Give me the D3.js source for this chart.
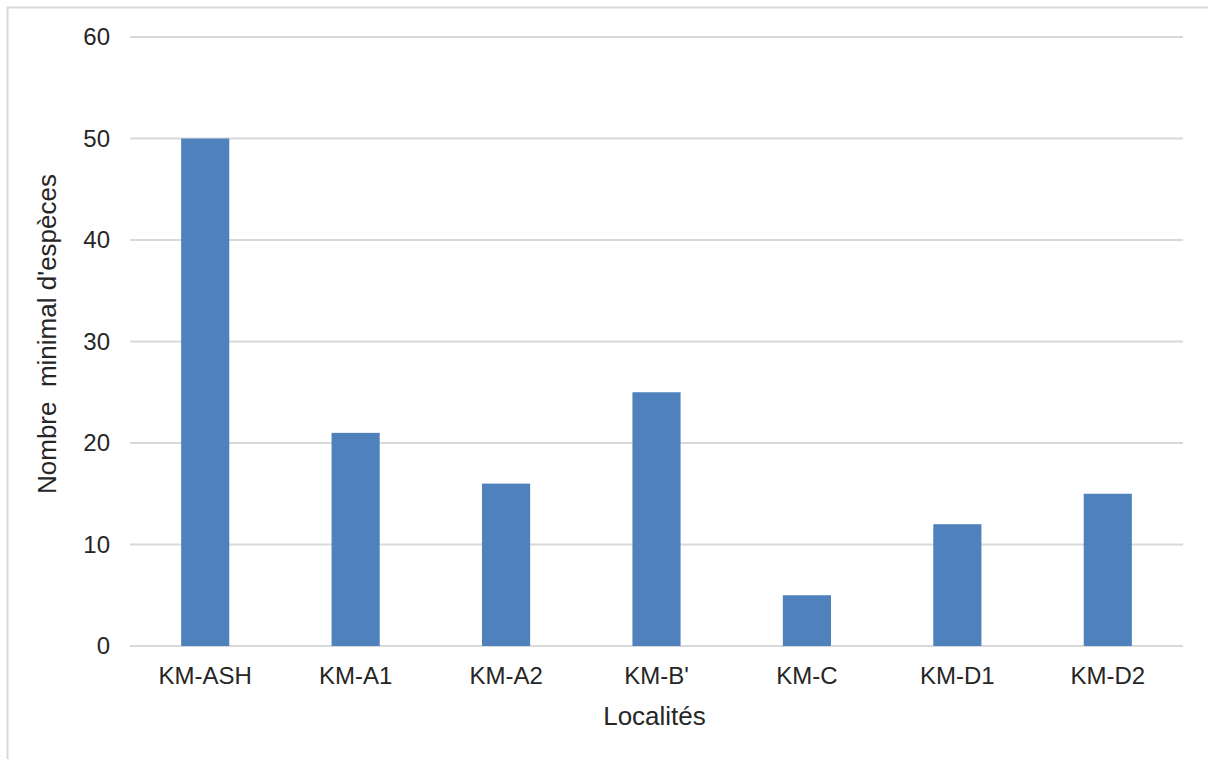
<!DOCTYPE html>
<html>
<head>
<meta charset="utf-8">
<script src="https://cdn.jsdelivr.net/npm/d3@7"></script>
<style>
  html, body { margin: 0; padding: 0; background: #fff; }
  svg { display: block; font-family: "Liberation Sans", Arial, sans-serif; }
</style>
</head>
<body>
<svg id="chart" width="1208" height="759"></svg>
<script>
// Minimum number of species per locality
const categories = ["KM-ASH", "KM-A1", "KM-A2", "KM-B'", "KM-C", "KM-D1", "KM-D2"];
const values = [50, 21, 16, 25, 5, 12, 15];
const yTicks = [0, 10, 20, 30, 40, 50, 60];
const xTitle = "Localités";
const yTitle = "Nombre\u00a0 minimal d'espèces";

const svg = d3.select("#chart");
const W = 1208, H = 759;
const plot = { left: 130, right: 1183, top: 37, bottom: 646 };

// Outer chart frame (only top and left edges fall inside the view)
svg.append("rect")
  .attr("x", 7.5).attr("y", 7.5)
  .attr("width", W).attr("height", H)
  .attr("fill", "#fff")
  .attr("stroke", "#d9d9d9").attr("stroke-width", 2);

const x = d3.scaleBand()
  .domain(categories)
  .range([plot.left, plot.right])
  .paddingInner(0.68)
  .paddingOuter(0.34);

const y = d3.scaleLinear()
  .domain([0, 60])
  .range([plot.bottom, plot.top]);

// Horizontal gridlines
svg.append("g")
  .selectAll("line")
  .data(yTicks)
  .join("line")
  .attr("x1", plot.left).attr("x2", plot.right)
  .attr("y1", d => y(d)).attr("y2", d => y(d))
  .attr("stroke", "#d9d9d9").attr("stroke-width", 2);

// Bars
svg.append("g")
  .selectAll("rect")
  .data(categories.map((c, i) => ({ c, v: values[i] })))
  .join("rect")
  .attr("x", d => x(d.c))
  .attr("width", x.bandwidth())
  .attr("y", d => y(d.v))
  .attr("height", d => y(0) - y(d.v))
  .attr("fill", "#4f81bd");

// Y axis labels
const yAxis = svg.append("g")
  .attr("transform", `translate(${plot.left - 20},0)`)
  .call(d3.axisLeft(y).tickValues(yTicks).tickSize(0).tickPadding(0));
yAxis.select(".domain").remove();
yAxis.selectAll("text")
  .attr("font-size", 24)
  .attr("fill", "#262626")
  .attr("font-family", "Liberation Sans, Arial, sans-serif");

// X axis labels
const xAxis = svg.append("g")
  .attr("transform", `translate(0,${plot.bottom})`)
  .call(d3.axisBottom(x).tickSize(0).tickPadding(21));
xAxis.select(".domain").remove();
xAxis.selectAll("text")
  .attr("font-size", 24)
  .attr("fill", "#262626")
  .attr("font-family", "Liberation Sans, Arial, sans-serif");

// Axis titles
svg.append("text")
  .attr("x", (plot.left + plot.right) / 2 - 2)
  .attr("y", 725)
  .attr("text-anchor", "middle")
  .attr("font-size", 26)
  .attr("fill", "#262626")
  .text(xTitle);

svg.append("text")
  .attr("transform", `translate(56,334) rotate(-90)`)
  .attr("text-anchor", "middle")
  .attr("font-size", 26)
  .attr("fill", "#262626")
  .text(yTitle);
</script>
</body>
</html>
